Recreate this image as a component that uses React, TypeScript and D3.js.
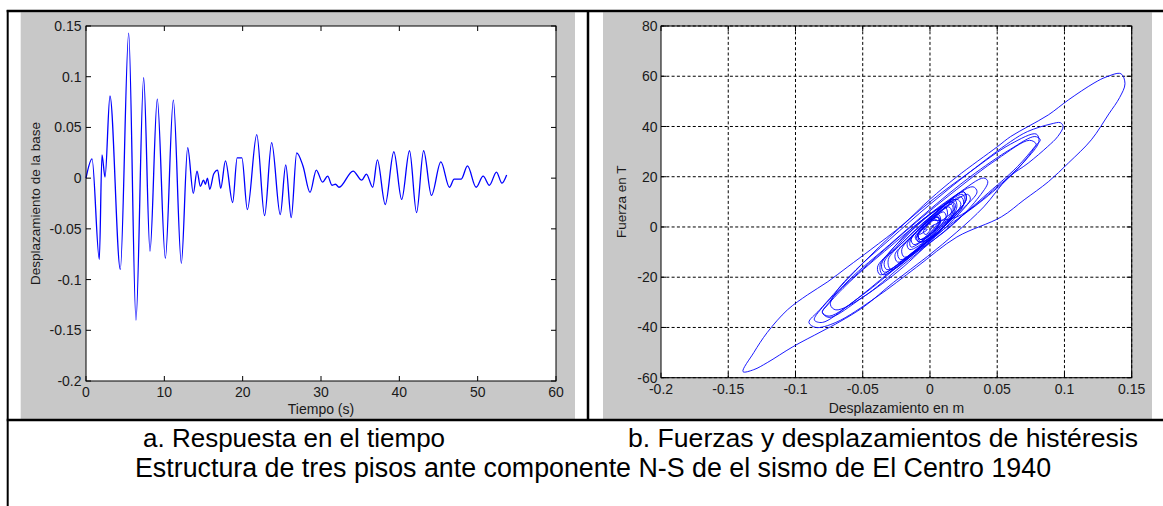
import React from "react";
import * as d3 from "d3";

// ---------- data ----------
const timeTicks = [0, 10, 20, 30, 40, 50, 60];
const dispTicks = [-0.2, -0.15, -0.1, -0.05, 0, 0.05, 0.1, 0.15];
const hystXTicks = [-0.2, -0.15, -0.1, -0.05, 0, 0.05, 0.1, 0.15];
const forceTicks = [-60, -40, -20, 0, 20, 40, 60, 80];

// [time (s), base displacement (m)] – extrema
const timeResponse: [number, number][] = [
  [0, 0], [0.77, 0.019], [1.7, -0.08], [2.04, 0.023], [2.43, 0.001], [3.06, 0.081],
  [4.38, -0.09], [5.45, 0.143], [6.38, -0.14], [7.36, 0.099], [8.17, -0.072],
  [9.1, 0.078], [10.13, -0.079], [11.15, 0.077], [12.17, -0.084], [12.98, 0.03],
  [13.7, -0.015], [14.17, 0.007], [14.6, -0.008], [15.0, -0.002], [15.25, -0.006],
  [15.5, 0.0], [15.8, -0.011], [16.3, 0.004], [16.8, 0.008], [17.2, -0.01],
  [17.8, 0.017], [18.72, -0.024], [19.3, 0.02], [19.9, 0.02], [20.6, -0.031],
  [21.8, 0.043], [22.8, -0.037], [23.7, 0.035], [24.8, -0.036], [25.5, 0.013],
  [26.2, -0.039], [26.9, 0.025], [27.7, 0.012], [28.6, -0.014], [29.4, 0.008],
  [30.2, -0.004], [30.85, 0.002], [31.4, -0.007], [31.85, -0.006], [32.3, -0.009],
  [34.1, 0.007], [35.2, -0.002], [35.8, 0.004], [36.6, -0.009], [37.2, 0.018],
  [38.2, -0.026], [39.3, 0.026], [40.3, -0.021], [41.3, 0.027], [42.2, -0.034],
  [43.1, 0.027], [44.1, -0.017], [45.3, 0.016], [46.4, -0.009], [47.0, -0.001],
  [47.9, -0.001], [48.7, 0.012], [49.8, -0.009], [50.7, 0.002], [51.5, -0.007],
  [52.4, 0.006], [53.1, -0.005], [53.7, 0.003],
];

// [displacement (m), force (T)] – hysteresis path
const hysteresisPath: [number, number][] = [
  [0, 0], [0.01, 3], [0.019, 8],
  [0.017, 10], [0.0, 5], [-0.03, -8], [-0.06, -22], [-0.076, -31], [-0.08, -34],
  [-0.075, -36], [-0.05, -28], [-0.02, -16], [0.01, 0], [0.023, 9],
  [0.02, 11], [0.005, 6], [0.001, 3],
  [0.02, 4], [0.05, 16], [0.07, 26], [0.081, 34],
  [0.079, 37], [0.06, 33], [0.03, 22], [0.0, 10], [-0.03, -4], [-0.06, -20], [-0.082, -33], [-0.09, -38],
  [-0.085, -40], [-0.07, -38], [-0.04, -28], [-0.01, -16], [0.02, -4], [0.053, 4], [0.07, 10.8],
  [0.088, 18], [0.103, 25.5], [0.12, 34.7], [0.133, 45], [0.141, 51.5], [0.145, 57], [0.142, 61],
  [0.131, 59.7], [0.122, 57.3], [0.103, 50.6], [0.088, 44.6], [0.073, 40], [0.06, 36], [0.05, 31.9],
  [0.02, 20], [0.0, 11], [-0.02, 1], [-0.044, -9], [-0.061, -15.8], [-0.076, -21.8], [-0.091, -27],
  [-0.106, -33], [-0.121, -42], [-0.131, -50], [-0.139, -57.6],
  [-0.131, -56.8], [-0.121, -54], [-0.102, -47.7], [-0.081, -41.7], [-0.067, -37.7], [-0.049, -31.7],
  [-0.027, -22], [-0.002, -11.8], [0.02, -2], [0.04, 8], [0.058, 19.5], [0.073, 25.4], [0.0875, 32],
  [0.095, 36], [0.099, 40], [0.097, 41.5],
  [0.09, 41], [0.0726, 38], [0.06, 34], [0.03, 22], [0.0, 9], [-0.03, -5], [-0.055, -17], [-0.07, -26], [-0.074, -31],
  [-0.07, -33], [-0.05, -28], [-0.02, -15], [0.01, -2], [0.04, 12], [0.065, 24], [0.078, 32], [0.082, 34.7],
  [0.078, 36], [0.06, 31], [0.03, 20], [0.0, 7], [-0.03, -7], [-0.06, -21], [-0.075, -30], [-0.08, -34],
  [-0.075, -35.5], [-0.05, -27], [-0.02, -14], [0.01, -1], [0.04, 11], [0.065, 23], [0.077, 31], [0.079, 33],
  [0.074, 34.5], [0.05, 27], [0.02, 15], [-0.01, 2], [-0.04, -12], [-0.065, -24], [-0.08, -32], [-0.086, -37],
  [-0.08, -38], [-0.06, -31], [-0.03, -18], [0.0, -5], [0.02, 5], [0.03, 11],
  [0.028, 13], [0.01, 7], [-0.01, -2], [-0.015, -6],
  [-0.014, -8], [0.0, -3], [0.007, 2],
  [0.006, 4], [-0.004, 0], [-0.008, -3],
  [-0.002, -1],
  [-0.006, -1], [-0.011, -4],
  [-0.008, -6], [0.004, -1], [0.008, 3],
  [0.006, 5], [-0.004, 0], [-0.01, -4],
  [-0.008, -6], [0.006, -2], [0.017, 6],
  [0.016, 9], [0.0, 3], [-0.016, -5], [-0.024, -10],
  [-0.022, -13], [-0.005, -7], [0.012, 1], [0.02, 8],
  [0.018, 11], [0.0, 4], [-0.02, -6], [-0.031, -13],
  [-0.029, -17], [-0.01, -10], [0.015, 0], [0.035, 11], [0.043, 18],
  [0.04, 19.5], [0.02, 13], [-0.005, 3], [-0.025, -8], [-0.037, -15],
  [-0.035, -19], [-0.015, -12], [0.01, -1], [0.028, 9], [0.035, 14],
  [0.032, 16], [0.01, 9], [-0.015, -2], [-0.03, -10], [-0.036, -15],
  [-0.034, -18], [-0.015, -11], [0.005, -1], [0.013, 5],
  [0.011, 8], [-0.01, 1], [-0.03, -10], [-0.039, -16],
  [-0.037, -19], [-0.015, -11], [0.01, 0], [0.025, 9],
  [0.023, 12], [0.005, 5], [-0.01, -2], [-0.014, -5],
  [-0.012, -7], [0.0, -3], [0.008, 2],
  [0.006, 4], [-0.004, 0], [-0.009, -3],
  [-0.007, -5], [0.003, -1], [0.007, 2],
  [0.005, 4], [-0.005, 0], [-0.009, -3],
  [-0.007, -6], [0.006, -2], [0.018, 6],
  [0.016, 10], [0.0, 3], [-0.018, -6], [-0.026, -11],
  [-0.024, -14], [-0.005, -7], [0.015, 3], [0.026, 10],
  [0.024, 13], [0.005, 6], [-0.012, -3], [-0.021, -9],
  [-0.019, -12], [0.0, -5], [0.018, 5], [0.027, 11],
  [0.025, 14], [0.005, 6], [-0.018, -5], [-0.034, -14],
  [-0.032, -17], [-0.012, -10], [0.01, 1], [0.027, 11],
  [0.025, 14], [0.005, 6], [-0.012, -3], [-0.017, -7],
  [-0.015, -9], [0.0, -4], [0.016, 6],
  [0.014, 8], [0.0, 2], [-0.009, -3],
  [-0.007, -5], [0.005, -1], [0.012, 4],
  [0.01, 6], [-0.002, 1], [-0.009, -3],
  [-0.007, -5], [0.006, 2],
  [0.004, 3], [-0.005, -2],
  [-0.003, -3], [0.003, 1],
];

const labelTime = "Tiempo (s)";
const labelDisp = "Desplazamiento de la base";
const labelHystX = "Desplazamiento en m";
const labelForce = "Fuerza en T";
const captionA = "a. Respuesta en el tiempo";
const captionB = "b. Fuerzas y desplazamientos de histéresis";
const captionMain = "Estructura de tres pisos ante componente N-S de el sismo de El Centro 1940";

// ---------- layout ----------
const W = 1163;
const H = 506;
const FONT = "'Liberation Sans', Arial, Helvetica, sans-serif";
const GRAY = "#c8c8c8";
const TICK = 5;

const L = { x0: 86, x1: 556, y0: 26, y1: 381 };
const R = { x0: 661, x1: 1131.7, y0: 26, y1: 377.7 };

export default function App() {
  const xL = d3.scaleLinear().domain([0, 60]).range([L.x0, L.x1]);
  const yL = d3.scaleLinear().domain([-0.2, 0.15]).range([L.y1, L.y0]);
  const xR = d3.scaleLinear().domain([-0.2, 0.15]).range([R.x0, R.x1]);
  const yR = d3.scaleLinear().domain([-60, 80]).range([R.y1, R.y0]);

  const timeLine = d3
    .line<[number, number]>()
    .x((d) => xL(d[0]))
    .y((d) => yL(d[1]))
    .curve(d3.curveMonotoneX);

  const hystLine = d3
    .line<[number, number]>()
    .x((d) => xR(d[0]))
    .y((d) => yR(d[1]))
    .curve(d3.curveCatmullRom.alpha(0.5));

  const txt = { fontFamily: FONT, fill: "#1a1a1a" } as const;

  return (
    <svg
      width={W}
      height={H}
      style={{ position: "absolute", left: 0, top: 0, background: "#fff" }}
    >
      {/* panel backgrounds */}
      <rect x={20.7} y={12.3} width={575 - 20.7} height={419 - 12.3} fill={GRAY} />
      <rect x={603} y={12.3} width={1152 - 603} height={419 - 12.3} fill={GRAY} />

      {/* ---------- left plot ---------- */}
      <rect x={L.x0} y={L.y0} width={L.x1 - L.x0} height={L.y1 - L.y0} fill="#fff" />
      <path d={timeLine(timeResponse) || ""} fill="none" stroke="#0000ff" strokeWidth={1.3} />
      <rect x={L.x0} y={L.y0} width={L.x1 - L.x0} height={L.y1 - L.y0} fill="none" stroke="#000" strokeWidth={1} />
      {timeTicks.map((t) => (
        <g key={"lt" + t}>
          <line x1={xL(t)} x2={xL(t)} y1={L.y1} y2={L.y1 - TICK} stroke="#000" />
          <line x1={xL(t)} x2={xL(t)} y1={L.y0} y2={L.y0 + TICK} stroke="#000" />
          <text x={xL(t)} y={L.y1 + 16} textAnchor="middle" fontSize={14} style={txt}>
            {String(t)}
          </text>
        </g>
      ))}
      {dispTicks.map((v) => (
        <g key={"ly" + v}>
          <line x1={L.x0} x2={L.x0 + TICK} y1={yL(v)} y2={yL(v)} stroke="#000" />
          <line x1={L.x1} x2={L.x1 - TICK} y1={yL(v)} y2={yL(v)} stroke="#000" />
          <text x={L.x0 - 4.5} y={yL(v)} dy="0.36em" textAnchor="end" fontSize={14} style={txt}>
            {String(v)}
          </text>
        </g>
      ))}
      <text x={(L.x0 + L.x1) / 2} y={414} textAnchor="middle" fontSize={14} style={txt}>
        {labelTime}
      </text>
      <text
        transform={`translate(39.5, ${(L.y0 + L.y1) / 2}) rotate(-90)`}
        textAnchor="middle"
        fontSize={13.5}
        style={txt}
      >
        {labelDisp}
      </text>

      {/* ---------- right plot ---------- */}
      <rect x={R.x0} y={R.y0} width={R.x1 - R.x0} height={R.y1 - R.y0} fill="#fff" />
      {hystXTicks.slice(1).map((v) => (
        <line key={"gx" + v} x1={xR(v)} x2={xR(v)} y1={R.y0} y2={R.y1} stroke="#000" strokeWidth={1} strokeDasharray="3,2.3" />
      ))}
      {forceTicks.map((v) => (
        <line key={"gy" + v} x1={R.x0} x2={R.x1} y1={yR(v)} y2={yR(v)} stroke="#000" strokeWidth={1} strokeDasharray="3,2.3" />
      ))}
      <path d={hystLine(hysteresisPath) || ""} fill="none" stroke="#0000ff" strokeWidth={0.9} />
      <rect x={R.x0} y={R.y0} width={R.x1 - R.x0} height={R.y1 - R.y0} fill="none" stroke="#000" strokeWidth={1} />
      {hystXTicks.map((v) => (
        <g key={"rt" + v}>
          <line x1={xR(v)} x2={xR(v)} y1={R.y1} y2={R.y1 - TICK} stroke="#000" />
          <line x1={xR(v)} x2={xR(v)} y1={R.y0} y2={R.y0 + TICK} stroke="#000" />
          <text x={xR(v)} y={R.y1 + 16} textAnchor="middle" fontSize={14} style={txt}>
            {String(v)}
          </text>
        </g>
      ))}
      {forceTicks.map((v) => (
        <g key={"ry" + v}>
          <line x1={R.x0} x2={R.x0 + TICK} y1={yR(v)} y2={yR(v)} stroke="#000" />
          <line x1={R.x1} x2={R.x1 - TICK} y1={yR(v)} y2={yR(v)} stroke="#000" />
          <text x={R.x0 - 3.5} y={yR(v)} dy="0.36em" textAnchor="end" fontSize={14} style={txt}>
            {String(v)}
          </text>
        </g>
      ))}
      <text x={(R.x0 + R.x1) / 2} y={413} textAnchor="middle" fontSize={14} style={txt}>
        {labelHystX}
      </text>
      <text
        transform={`translate(625.5, ${(R.y0 + R.y1) / 2}) rotate(-90)`}
        textAnchor="middle"
        fontSize={13.5}
        style={txt}
      >
        {labelForce}
      </text>

      {/* ---------- table borders ---------- */}
      <line x1={6.7} x2={W} y1={11} y2={11} stroke="#000" strokeWidth={2.5} />
      <line x1={7.7} x2={7.7} y1={10} y2={H} stroke="#000" strokeWidth={2} />
      <line x1={588} x2={588} y1={10} y2={421} stroke="#000" strokeWidth={2.5} />
      <line x1={6.7} x2={W} y1={420} y2={420} stroke="#000" strokeWidth={2.5} />

      {/* ---------- captions ---------- */}
      <text x={143} y={447} fontSize={26} style={{ fontFamily: FONT, fill: "#000" }}>
        {captionA}
      </text>
      <text x={628} y={447} fontSize={26.6} style={{ fontFamily: FONT, fill: "#000" }}>
        {captionB}
      </text>
      <text x={135} y={477} fontSize={26.8} style={{ fontFamily: FONT, fill: "#000" }}>
        {captionMain}
      </text>
    </svg>
  );
}
